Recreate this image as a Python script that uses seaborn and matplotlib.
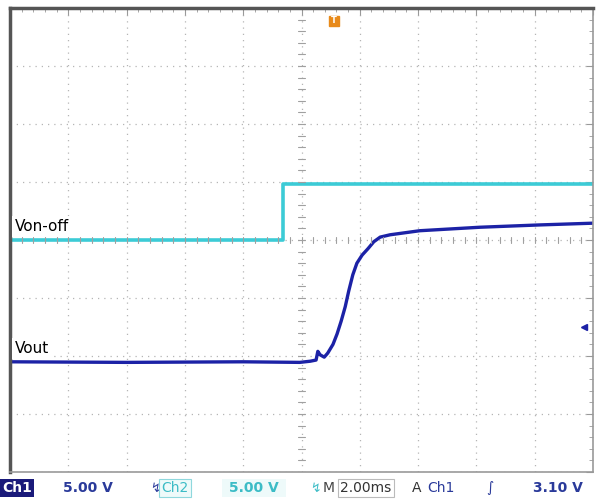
import matplotlib
matplotlib.use('Agg')
import matplotlib.pyplot as plt
import seaborn as sns
import pandas as pd
import numpy as np

# time in divisions (2.00 ms/div), voltage in divisions (5.00 V/div)
von_t = [0.0, 4.68, 4.68, 10.0]
von_v = [4.0, 4.0, 4.97, 4.97]

vout_t = [0.0, 2.0, 4.0, 4.97, 5.15, 5.25, 5.28, 5.32, 5.39, 5.45, 5.54, 5.61,
          5.68, 5.75, 5.81, 5.88, 5.95, 6.04, 6.14, 6.24, 6.35, 6.52, 7.03,
          8.06, 9.09, 10.0]
vout_v = [1.90, 1.89, 1.90, 1.89, 1.91, 1.93, 2.08, 2.02, 1.98, 2.05, 2.20, 2.38,
          2.60, 2.85, 3.12, 3.40, 3.60, 3.74, 3.85, 3.97, 4.05, 4.09, 4.16,
          4.22, 4.26, 4.29]

trig_time = 5.55
trig_level = 2.5

CYAN = '#3ccbd6'
BLUE = '#1c22a6'

sns.set_style('white')
fig = plt.figure(figsize=(5.97, 5.00), dpi=100)
ax = fig.add_axes([10 / 597, 28 / 500, 583 / 597, 464 / 500])

df_on = pd.DataFrame({'t': von_t, 'v': von_v})
df_out = pd.DataFrame({'t': vout_t, 'v': vout_v})
sns.lineplot(data=df_on, x='t', y='v', color=CYAN, lw=2.6, sort=False,
             estimator=None, ax=ax)
sns.lineplot(data=df_out, x='t', y='v', color=BLUE, lw=2.4, sort=False,
             estimator=None, ax=ax)

ax.set_xlim(0, 10)
ax.set_ylim(0, 8)
ax.set_xlabel('')
ax.set_ylabel('')
ax.set_xticks(range(11))
ax.set_yticks(range(9))
ax.set_xticklabels([])
ax.set_yticklabels([])
ax.grid(True, color='#b5b5b5', ls=(0, (1, 4)), lw=0.9)
ax.set_xticks(np.arange(0, 10.01, 0.2), minor=True)
ax.set_yticks(np.arange(0, 8.01, 0.2), minor=True)
ax.tick_params(which='both', direction='in', top=True, right=True, color='#999999')
ax.tick_params(which='major', length=5)
ax.tick_params(which='minor', length=3)

# centre-cross minor marks
for x in np.arange(0, 10.01, 0.2):
    ax.plot([x, x], [3.94, 4.06], color='#a0a0a0', lw=0.8)
for y in np.arange(0, 8.01, 0.2):
    ax.plot([4.94, 5.06], [y, y], color='#a0a0a0', lw=0.8)

for side in ['left', 'top']:
    ax.spines[side].set_color('#555555')
    ax.spines[side].set_linewidth(2.5)
for side in ['right', 'bottom']:
    ax.spines[side].set_color('#999999')
    ax.spines[side].set_linewidth(1.2)

# trace labels
ax.text(0.08, 4.1, 'Von-off', fontsize=11, color='black', va='bottom',
        bbox=dict(facecolor='white', edgecolor='none', pad=2))
ax.text(0.08, 2.0, 'Vout', fontsize=11, color='black', va='bottom',
        bbox=dict(facecolor='white', edgecolor='none', pad=2))

# trigger markers
ax.plot(trig_time, 7.78, marker='s', ms=7, color='#e88a1a', clip_on=False)
ax.text(trig_time, 7.78, 'T', fontsize=6, color='white', ha='center', va='center',
        fontweight='bold')
ax.plot(9.85, trig_level, marker='<', ms=5, color=BLUE, clip_on=False)

# status bar
fs = 10
yb = 0.024
fig.text(0.003, yb, 'Ch1', fontsize=fs, color='white', va='center', fontweight='bold',
         bbox=dict(facecolor='#1a1a7a', edgecolor='none', pad=1.5))
fig.text(0.105, yb, '5.00 V', fontsize=fs, color='#2a3a9a', va='center', fontweight='bold')
fig.text(0.252, yb, '↯', fontsize=fs - 1, color='#2a3a9a', va='center')
fig.text(0.27, yb, 'Ch2', fontsize=fs, color='#3cbcc6', va='center',
         bbox=dict(facecolor='#eefafa', edgecolor='#8fd8dd', pad=1.5, lw=0.8))
fig.text(0.375, yb, ' 5.00 V ', fontsize=fs, color='#3cbcc6', va='center', fontweight='bold',
         bbox=dict(facecolor='#eefafa', edgecolor='none', pad=1.5))
fig.text(0.52, yb, '↯', fontsize=fs - 1, color='#3cbcc6', va='center')
fig.text(0.54, yb, 'M', fontsize=fs, color='#444444', va='center')
fig.text(0.57, yb, '2.00ms', fontsize=fs, color='#333333', va='center',
         bbox=dict(facecolor='white', edgecolor='#bbbbbb', pad=1.5, lw=0.8))
fig.text(0.69, yb, 'A', fontsize=fs, color='#333333', va='center')
fig.text(0.715, yb, 'Ch1', fontsize=fs, color='#2a3a9a', va='center')
fig.text(0.815, yb, '∫', fontsize=fs, color='#2a3a9a', va='center')
fig.text(0.893, yb, '3.10 V', fontsize=fs, color='#2a3a9a', va='center', fontweight='bold')

fig.savefig('out.png', dpi=100)
